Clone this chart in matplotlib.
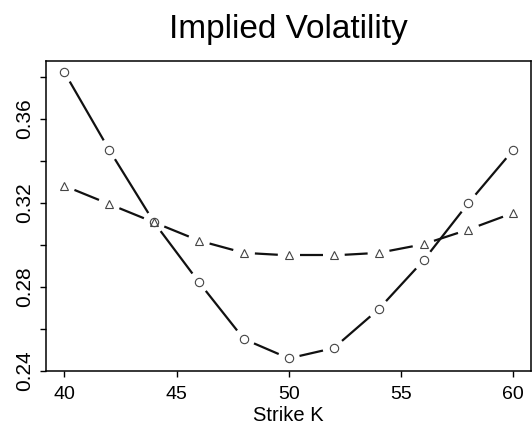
import numpy as np
from matplotlib import pyplot as plt

plt.rcParams.update({
    "font.family": ["Liberation Sans", "DejaVu Sans"],
    })

strike = [40, 42, 44, 46, 48, 50, 52, 54, 56, 58, 60]
vol_circle = [0.3822, 0.3452, 0.3107, 0.2822, 0.2552, 0.2460, 0.2509, 0.2694, 0.2926, 0.3199, 0.3452]
vol_triangle = [0.3281, 0.3194, 0.3107, 0.3020, 0.2962, 0.2950, 0.2950, 0.2962, 0.3003, 0.3073, 0.3152]
yticks = [0.24, 0.26, 0.28, 0.30, 0.32, 0.34, 0.36, 0.38]
ytick_labels = ['0.24', '', '0.28', '', '0.32', '', '0.36', '']
xticks = [40, 45, 50, 55, 60]

W, H = 532, 426
fig = plt.figure(figsize=[W / 100, H / 100], dpi=100)
ax = fig.add_axes([46.3 / W, (H - 371) / H, 485 / W, 310.3 / H])
ax.set_xlim(39.2, 60.8)
ax.set_ylim(0.2406, 0.3876)


def plot_b(ax, x, y, marker, gap=11):
    # R style type="b": line segments broken around each point
    pts = ax.transData.transform(np.column_stack([x, y]))
    for p0, p1 in zip(pts[:-1], pts[1:]):
        d = p1 - p0
        n = np.hypot(*d)
        if n <= 2 * gap:
            continue
        u = d / n
        seg = ax.transData.inverted().transform(np.array([p0 + u * gap, p1 - u * gap]))
        ax.plot(seg[:, 0], seg[:, 1], color='#111111', lw=1.6, solid_capstyle='butt')
    ax.plot(x, y, ls='none', marker=marker, ms=6, mfc='none', mec='#444444', mew=0.8)


plot_b(ax, strike, vol_circle, 'o')
plot_b(ax, strike, vol_triangle, '^')

ax.set_xticks(xticks)
ax.set_yticks(yticks)
ax.set_yticklabels(ytick_labels)
ax.tick_params(axis='x', length=4, width=1, pad=7, labelsize=14)
ax.tick_params(axis='y', length=4, width=1, pad=5, labelsize=15, labelrotation=90)
for lbl in ax.get_yticklabels():
    lbl.set_va('center')
for s in ax.spines.values():
    s.set_linewidth(1.1)

ax.set_xlabel('Strike K', fontsize=14.5, labelpad=2)
ax.set_title('Implied Volatility', fontsize=24, pad=16)

plt.savefig('out.png', dpi=100)
